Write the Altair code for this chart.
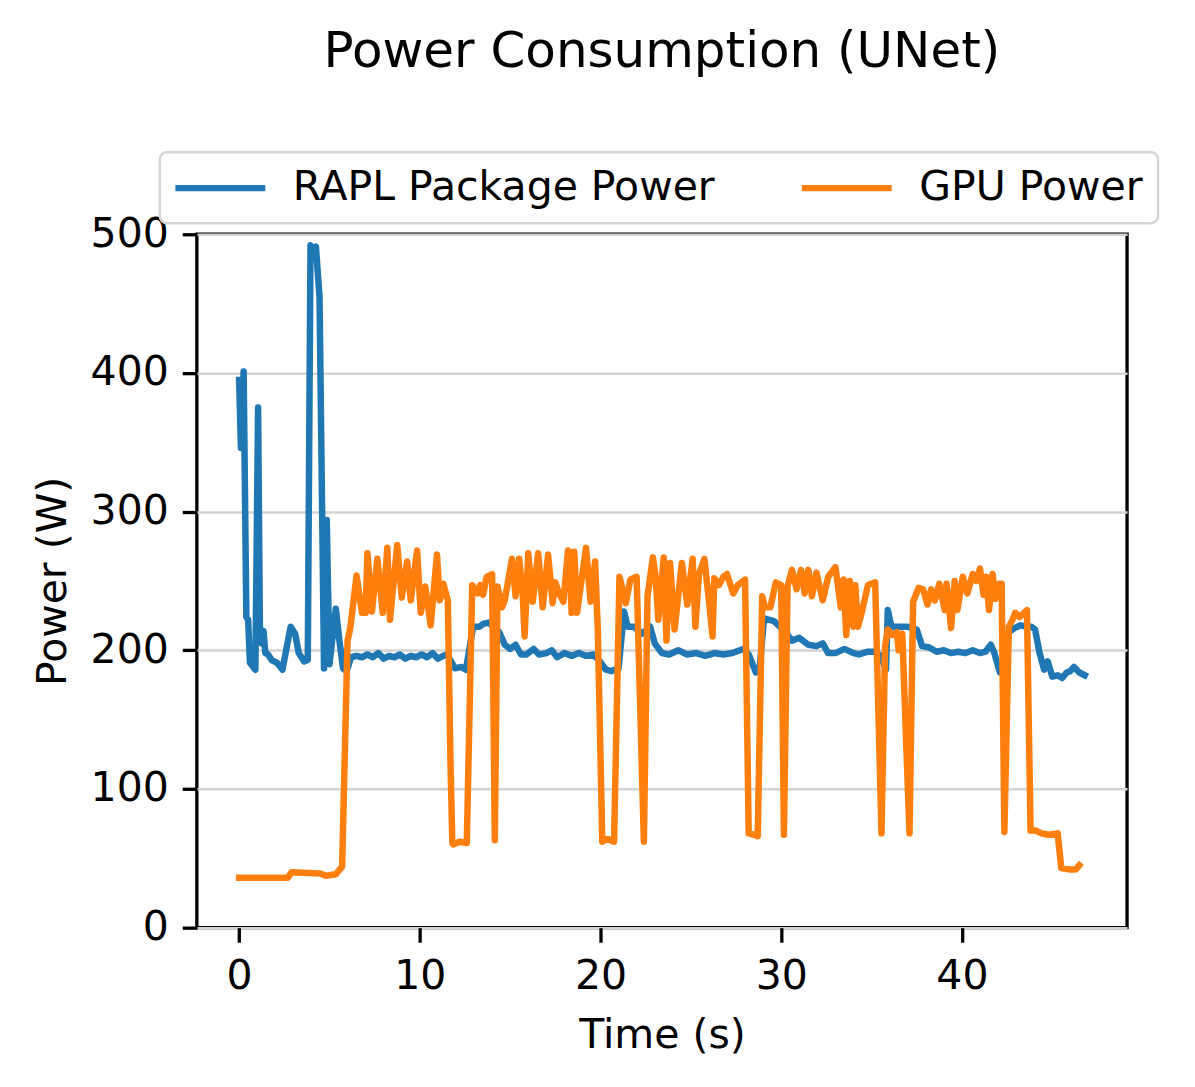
import altair as alt
import pandas as pd

# ---- data ----
rapl_t = [0.0, 0.1, 0.25, 0.4, 0.5, 0.6, 0.9, 1.05, 1.15, 1.25, 1.35, 1.45, 1.6, 1.8, 2.1, 2.4,
          2.85, 3.1, 3.3, 3.6, 3.8, 3.95, 4.1, 4.25, 4.45, 4.7, 4.85, 5.0, 5.35, 5.55, 5.75, 5.95,
          6.2, 6.5, 6.8, 7.1, 7.4, 7.7, 8.0, 8.3, 8.6, 8.9, 9.2, 9.5, 9.8, 10.1, 10.4, 10.7, 11.0,
          11.3, 11.5, 11.95, 12.3, 12.55, 12.95, 13.3, 13.5, 13.8, 14.1, 14.4, 14.7, 15.0, 15.3,
          15.6, 15.9, 16.3, 16.6, 17.0, 17.3, 17.6, 18.0, 18.4, 18.8, 19.2, 19.6, 19.9, 20.3, 20.6,
          21.0, 21.3, 21.5, 21.85, 22.3, 22.75, 23.0, 23.4, 23.8, 24.3, 24.8, 25.3, 25.8, 26.3,
          26.8, 27.3, 27.9, 28.2, 28.6, 28.8, 29.05, 29.6, 30.1, 30.6, 31.0, 31.5, 31.95, 32.3,
          32.6, 33.0, 33.5, 34.0, 34.3, 34.8, 35.2, 35.5, 35.8, 35.9, 36.1, 36.55, 37.0, 37.5,
          37.8, 38.2, 38.6, 39.0, 39.4, 39.8, 40.2, 40.6, 41.0, 41.3, 41.6, 41.8, 42.1, 42.35,
          42.6, 42.9, 43.25, 43.6, 43.85, 44.05, 44.3, 44.55, 44.75, 45.0, 45.3, 45.55, 45.8,
          46.0, 46.2, 46.5, 46.8]
rapl_w = [395, 346, 401, 224, 222, 191, 186, 375, 215, 205, 214, 198, 197, 193, 191, 186,
          217, 212, 198, 192, 193, 492, 489, 491, 455, 187, 294, 190, 230, 207, 187, 185,
          195, 196, 195, 197, 195, 198, 194, 196, 195, 197, 194, 196, 195, 197, 195, 198, 194,
          196, 197, 187, 188, 186, 217, 217, 219, 220, 217, 213, 204, 201, 204,
          197, 197, 201, 197, 198, 200, 195, 198, 196, 198, 196, 197, 193, 186, 185,
          187, 228, 217, 217, 212, 217, 205, 198, 197, 200, 197, 198, 196, 198,
          197, 198, 201, 197, 184, 186, 223, 221, 215, 207, 209, 204, 203, 205,
          198, 198, 201, 198, 197, 199, 199, 196, 186, 229, 217, 217, 217, 215,
          203, 202, 199, 200, 198, 199, 198, 200, 198, 199, 204, 198, 184, 185,
          213, 216, 218, 217, 217, 215, 198, 186, 192, 181, 182, 180, 184,
          185, 188, 184, 182]

gpu_t = [0.0, 2.7, 2.9, 4.5, 4.8, 5.35, 5.7, 5.85, 6.0, 6.15, 6.5, 6.8, 7.0, 7.1, 7.35, 7.65,
         7.95, 8.2, 8.35, 8.75, 9.0, 9.3, 9.5, 9.85, 10.05, 10.3, 10.6, 10.95, 11.1, 11.3, 11.55,
         11.7, 11.8, 11.85, 12.2, 12.6, 12.9, 13.2, 13.35, 13.5, 13.7, 14.0, 14.15, 14.3, 14.55,
         14.7, 15.1, 15.3, 15.5, 15.7, 15.8, 16.0, 16.25, 16.55, 16.8, 17.1, 17.35, 17.5, 17.7,
         17.95, 18.2, 18.3, 18.4, 18.55, 18.7, 19.2, 19.45, 19.7, 19.85, 20.1, 20.4, 20.75,
         21.05, 21.4, 21.65, 22.0, 22.4, 22.6, 22.9, 23.05, 23.2, 23.5, 23.65, 23.85, 24.1,
         24.5, 24.8, 25.1, 25.25, 25.45, 25.75, 26.0, 26.2, 26.3, 26.55, 26.8, 27.0, 27.35,
         27.6, 28.0, 28.2, 28.5, 28.7, 28.95, 29.1, 29.4, 29.7, 30.0, 30.15, 30.35, 30.6,
         30.85, 31.1, 31.3, 31.5, 31.7, 31.95, 32.3, 32.6, 33.0, 33.3, 33.45, 33.6, 33.8,
         34.0, 34.1, 34.25, 34.45, 34.8, 35.2, 35.55, 35.75, 35.9, 36.15, 36.4, 36.5, 36.7,
         37.1, 37.3, 37.6, 37.85, 38.1, 38.3, 38.5, 38.75, 39.05, 39.15, 39.4, 39.6, 39.75,
         40.05, 40.3, 40.6, 40.8, 41.0, 41.2, 41.35, 41.5, 41.7, 41.85, 42.05, 42.2, 42.35,
         42.6, 42.8, 42.95, 43.2, 43.6, 43.8, 44.1, 44.4, 44.8, 45.3, 45.5, 46.0, 46.3, 46.5]
gpu_w = [36, 36, 40, 39, 37.5, 38.5, 44, 126, 207, 216, 254, 227, 227, 270, 228, 266,
         227, 274, 222, 276, 238, 264, 236, 272, 227, 246, 218, 269, 236, 248, 236,
         118, 61, 60, 62, 61, 247, 241, 247, 240, 253, 255, 63, 246, 231,
         236, 266, 239, 266, 239, 210, 270, 235, 270, 231, 269, 234, 249, 241,
         235, 272, 271, 227, 271, 227, 274, 235, 264, 215, 62, 64, 62,
         253, 234, 251, 253, 62, 239, 267, 253, 222, 267, 207, 263, 215,
         263, 233, 266, 217, 255, 266, 236, 210, 252, 247, 253, 255, 241,
         247, 251, 68, 67, 66, 239, 231, 231, 249, 247, 67, 246, 258,
         244, 258, 241, 258, 239, 256, 236, 253, 260, 231, 251, 211, 250,
         217, 247, 217, 227, 247, 249, 68, 203, 215, 211, 213, 200, 212,
         68, 235, 245, 244, 233, 244, 236, 248, 229, 248, 216, 250, 229,
         253, 241, 255, 250, 259, 240, 253, 229, 255, 237, 248, 248, 69,
         217, 222, 227, 224, 229, 70, 70, 68, 67, 68, 43, 42, 42, 45]

series_names = ["RAPL Package Power", "GPU Power"]
series_colors = ["#1f77b4", "#ff7f0e"]
x_ticks = [0, 10, 20, 30, 40]
y_ticks = [0, 100, 200, 300, 400, 500]

df = pd.concat([
    pd.DataFrame({"t": rapl_t, "w": rapl_w, "series": series_names[0], "ord": 0}),
    pd.DataFrame({"t": gpu_t, "w": gpu_w, "series": series_names[1], "ord": 1}),
])

FONT = "DejaVu Sans"

chart = alt.Chart(df).mark_line(strokeWidth=6.5, strokeCap="square", strokeJoin="round").encode(
    x=alt.X("t:Q", title="Time (s)",
            scale=alt.Scale(domain=[-2.34, 49.14], nice=False, zero=False),
            axis=alt.Axis(values=x_ticks, grid=False, format="d")),
    y=alt.Y("w:Q", title="Power (W)",
            scale=alt.Scale(domain=[0, 500], nice=False),
            axis=alt.Axis(values=y_ticks, grid=True, format="d")),
    color=alt.Color("series:N",
                    scale=alt.Scale(domain=series_names, range=series_colors),
                    legend=alt.Legend(
                        title=None, orient="none", legendX=-37, legendY=-82,
                        direction="horizontal", columns=2,
                        symbolType="M-3,0H3", symbolSize=900, symbolStrokeWidth=6.25,
                        symbolOffset=25,
                        labelFontSize=41, labelFont=FONT, labelColor="black",
                        labelLimit=2000,
                        labelOffset=52, columnPadding=74, padding=15,
                        strokeColor="#d5d5d5",
                        fillColor="white", cornerRadius=7,
                    )),
    detail="ord:O",
).properties(
    width=931, height=694,
    title=alt.TitleParams("Power Consumption (UNet)", fontSize=50, font=FONT,
                          fontWeight="normal", color="black", anchor="middle",
                          offset=74),
    padding={"left": 189, "top": 226, "right": 60, "bottom": 150},
    autosize=alt.AutoSizeParams(type="none"),
).configure_view(
    stroke="black", strokeWidth=3.3
).configure_legend(
    strokeWidth=2.5
).configure_axis(
    domain=False,
    labelFont=FONT, labelFontSize=41, labelColor="black", labelPadding=14,
    titleFont=FONT, titleFontSize=41, titleColor="black", titleFontWeight="normal",
    tickColor="black", tickWidth=3.3, tickSize=14.6,
    gridColor="#d3d3d3", gridWidth=2.5,
).configure_axisX(
    titlePadding=19
).configure_axisY(
    titlePadding=16
)

chart.save("out.html", embed_options={"renderer": "svg", "actions": False})
